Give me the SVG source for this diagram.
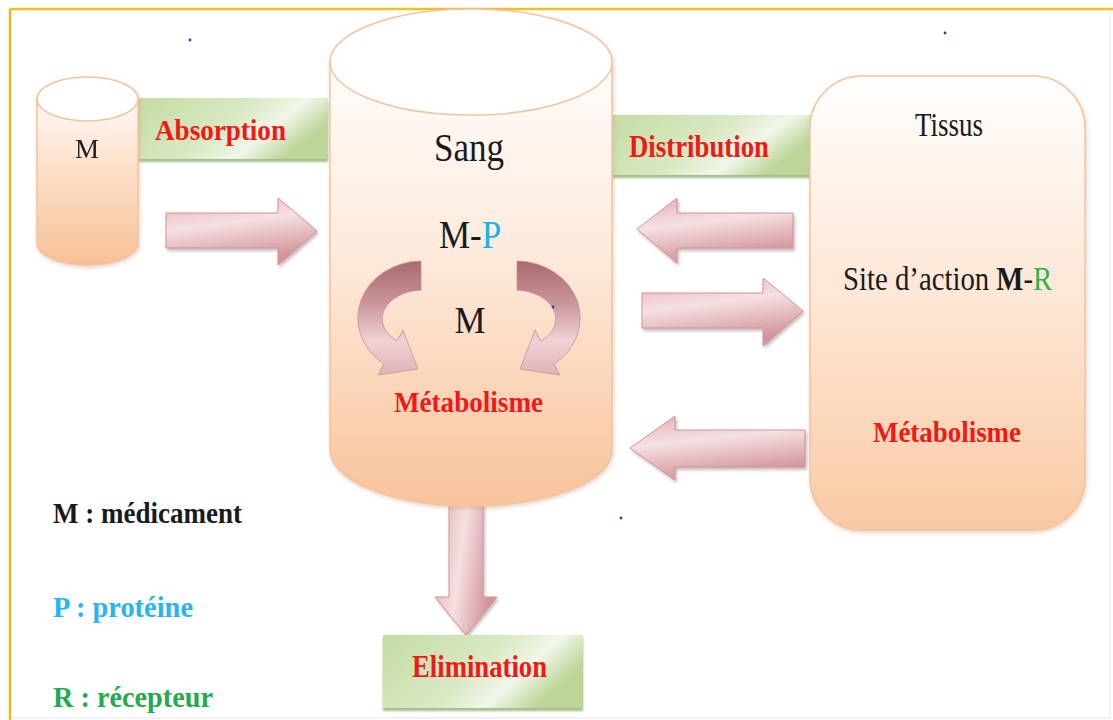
<svg xmlns="http://www.w3.org/2000/svg" width="1113" height="720" viewBox="0 0 1113 720">
<style>
.b{font-family:"Liberation Serif","Times New Roman",serif;font-weight:bold}
.r{font-family:"Liberation Serif","Times New Roman",serif}
.red{fill:#f21818}
.blk{fill:#1a1a1a}
.peach{stroke:#f3c3a0;stroke-width:1.5}
.arrow{fill:url(#gArrow);stroke:#cf959b;stroke-width:1;filter:url(#sh)}
.green{fill:url(#gGreen);filter:url(#shG)}
.curl{fill:url(#gCurl);stroke:#c99196;stroke-width:0.8}
</style>
<defs>
<linearGradient id="gPeach" x1="0" y1="0" x2="0" y2="1">
<stop offset="0" stop-color="#fffdfb"/>
<stop offset="0.45" stop-color="#fde9da"/>
<stop offset="1" stop-color="#f8c39b"/>
</linearGradient>
<linearGradient id="gPeachSmall" x1="0" y1="0" x2="0" y2="1">
<stop offset="0" stop-color="#fffaf6"/>
<stop offset="0.35" stop-color="#fde3cf"/>
<stop offset="1" stop-color="#f8c197"/>
</linearGradient>
<linearGradient id="gTissus" x1="0" y1="0" x2="0" y2="1">
<stop offset="0" stop-color="#fffefd"/>
<stop offset="0.5" stop-color="#fde6d4"/>
<stop offset="1" stop-color="#f9caa3"/>
</linearGradient>
<linearGradient id="gArrow" x1="0" y1="0" x2="0.3" y2="1">
<stop offset="0" stop-color="#e2adb2"/>
<stop offset="0.45" stop-color="#f6e1e3"/>
<stop offset="1" stop-color="#d2949a"/>
</linearGradient>
<linearGradient id="gArrowV" x1="0" y1="0" x2="1" y2="0.3">
<stop offset="0" stop-color="#dba4a9"/>
<stop offset="0.5" stop-color="#f6e1e3"/>
<stop offset="1" stop-color="#d2949a"/>
</linearGradient>
<linearGradient id="gCurl" x1="0" y1="0" x2="0" y2="1">
<stop offset="0" stop-color="#a8696f"/>
<stop offset="0.35" stop-color="#c79298"/>
<stop offset="0.7" stop-color="#efd3d6"/>
<stop offset="1" stop-color="#e1b1b6"/>
</linearGradient>
<linearGradient id="gGreen" x1="0" y1="0" x2="1" y2="0.4">
<stop offset="0" stop-color="#c4dca2"/>
<stop offset="0.55" stop-color="#d9e9c4"/>
<stop offset="0.78" stop-color="#f1f7e9"/>
<stop offset="1" stop-color="#bcd699"/>
</linearGradient>
<filter id="sh" x="-20%" y="-20%" width="140%" height="150%">
<feDropShadow dx="1.5" dy="2.5" stdDeviation="1.5" flood-color="#8a6a6a" flood-opacity="0.45"/>
</filter>
<filter id="shG" x="-10%" y="-10%" width="120%" height="140%">
<feDropShadow dx="0" dy="3" stdDeviation="1" flood-color="#8fae6e" flood-opacity="0.8"/>
</filter>
<filter id="shC" x="-10%" y="-10%" width="120%" height="120%">
<feDropShadow dx="1" dy="2" stdDeviation="2" flood-color="#c99a7a" flood-opacity="0.45"/>
</filter>
</defs>

<rect x="0" y="0" width="1113" height="720" fill="#ffffff"/>
<g id="frame">
<line x1="1110" y1="9" x2="1110" y2="718" stroke="#e6e6e6" stroke-width="1"/>
<line x1="10" y1="718" x2="1110" y2="718" stroke="#e6e6e6" stroke-width="1"/>
<line x1="10" y1="9" x2="1113" y2="9" stroke="#f2c21a" stroke-width="2.5"/>
<line x1="10" y1="9" x2="10" y2="720" stroke="#e8b820" stroke-width="2.5"/>
</g>

<g id="connectors">
<path id="arr-absorption" class="arrow" d="M166,213 H278 V198 L317,231 L278,265 V248 H166 Z"/>
<path id="arr-tissus-sang" class="arrow" d="M793,213 H677 V198 L637,229 L677,263 V248 H793 Z"/>
<path id="arr-sang-tissus" class="arrow" d="M642,293 H763 V278 L803,311 L763,346 V328 H642 Z"/>
<path id="arr-metab-sang" class="arrow" d="M805,430 H675 V416 L630,448 L675,480 V467 H805 Z"/>
<path id="arr-elimination" d="M449,490 H483 V597 H497 L466,635 L435,597 H449 Z" fill="url(#gArrowV)" stroke="#cf959b" stroke-width="1" filter="url(#sh)"/>
</g>

<g id="node-absorption">
<rect class="green" x="138" y="98" width="190" height="61"/>
<text class="b red" x="155" y="140" font-size="30" textLength="131" lengthAdjust="spacingAndGlyphs">Absorption</text>
</g>

<g id="node-distribution">
<rect class="green" x="612" y="115" width="200" height="60"/>
<text class="b red" x="629" y="157" font-size="31" textLength="140" lengthAdjust="spacingAndGlyphs">Distribution</text>
</g>

<g id="node-elimination">
<rect class="green" x="383" y="635" width="200" height="73"/>
<text class="b red" x="412" y="677" font-size="31" textLength="135" lengthAdjust="spacingAndGlyphs">Elimination</text>
</g>

<g id="node-M" filter="url(#shC)">
<path class="peach" d="M37,99 V243 A50.5,22 0 0 0 138,243 V99 Z" fill="url(#gPeachSmall)"/>
<ellipse class="peach" cx="87.5" cy="99" rx="50.5" ry="22" fill="#ffffff"/>
<text class="r blk" x="87" y="158" font-size="27" text-anchor="middle" textLength="24" lengthAdjust="spacingAndGlyphs">M</text>
</g>

<g id="node-sang">
<g filter="url(#shC)">
<path class="peach" d="M330,62 V450 A141,56 0 0 0 612,450 V62 Z" fill="url(#gPeach)"/>
<ellipse class="peach" cx="471" cy="62" rx="141" ry="53" fill="#ffffff"/>
</g>
<text class="r blk" x="434" y="161" font-size="40" textLength="70" lengthAdjust="spacingAndGlyphs">Sang</text>
<text class="r" x="0" y="0" font-size="40" transform="translate(439,248) scale(0.875,1)"><tspan fill="#1a1a1a">M-</tspan><tspan fill="#1ab0e8">P</tspan></text>
<path class="curl" d="M421,261 A64,57 0 0 0 384,364 L378,375 L418,369 L403,330 L397,341 A42,29 0 0 1 421,290 Z"/>
<path class="curl" transform="translate(938,0) scale(-1,1)" d="M421,261 A64,57 0 0 0 384,364 L378,375 L418,369 L403,330 L397,341 A42,29 0 0 1 421,290 Z"/>
<text class="r blk" x="470" y="333" font-size="38" text-anchor="middle" textLength="31" lengthAdjust="spacingAndGlyphs">M</text>
<text class="b red" x="394" y="412" font-size="30" textLength="149" lengthAdjust="spacingAndGlyphs">Métabolisme</text>
</g>

<g id="node-tissus">
<rect class="peach" x="810" y="76" width="275" height="454" rx="52" ry="52" fill="url(#gTissus)" filter="url(#shC)"/>
<text class="r blk" x="915" y="136" font-size="34" textLength="68" lengthAdjust="spacingAndGlyphs">Tissus</text>
<text class="r" x="0" y="0" font-size="34" fill="#1a1a1a" transform="translate(843,290) scale(0.846,1)">Site d’action <tspan font-weight="bold">M</tspan>-<tspan fill="#2db34a">R</tspan></text>
<text class="b red" x="873" y="442" font-size="30" textLength="148" lengthAdjust="spacingAndGlyphs">Métabolisme</text>
</g>

<g id="legend">
<text class="b blk" x="53" y="523" font-size="30" textLength="189" lengthAdjust="spacingAndGlyphs">M : médicament</text>
<text class="b" x="53" y="617" font-size="30" fill="#2ab4ee" textLength="140" lengthAdjust="spacingAndGlyphs">P : protéine</text>
<text class="b" x="53" y="707" font-size="30" fill="#25a950" textLength="160" lengthAdjust="spacingAndGlyphs">R : récepteur</text>
</g>

<g id="dots" fill="#3535c8">
<circle cx="190" cy="40" r="1.4"/>
<circle cx="945" cy="33" r="1.4"/>
<circle cx="553" cy="307" r="1.4"/>
<circle cx="621" cy="518" r="1.4"/>
</g>
</svg>
